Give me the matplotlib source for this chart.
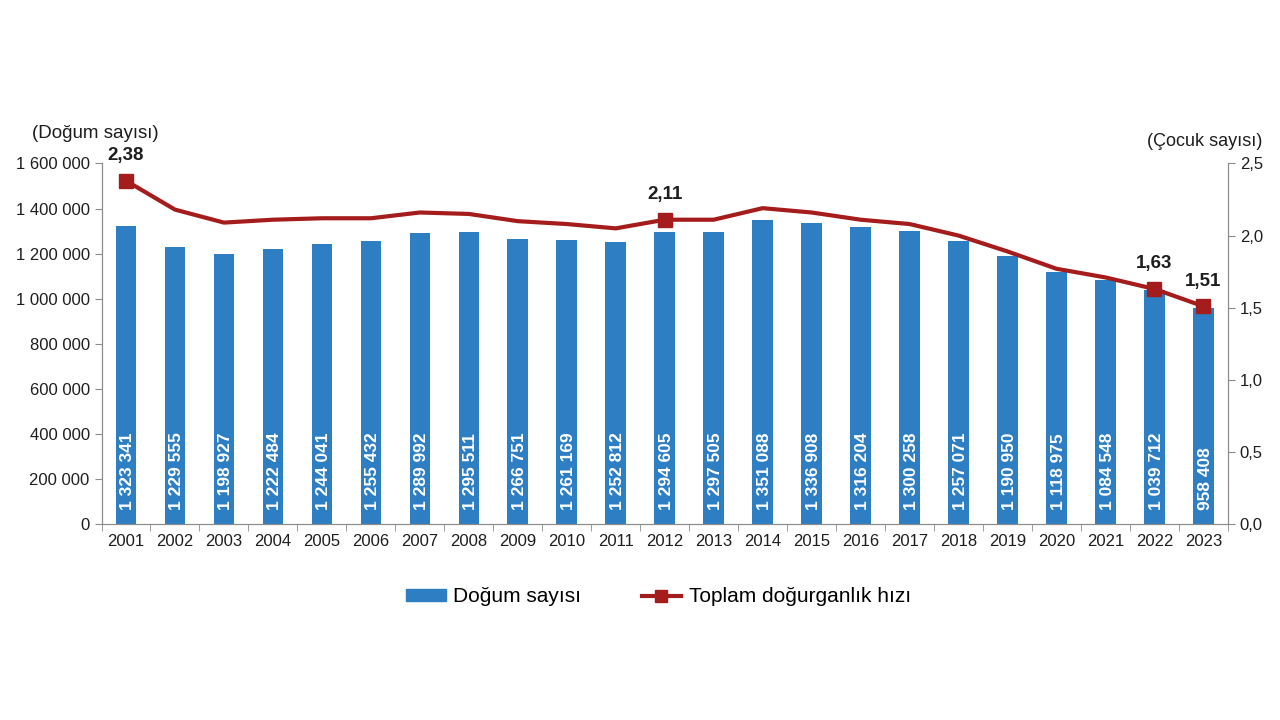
import matplotlib.pyplot as plt
from matplotlib.lines import Line2D
from matplotlib.patches import Patch

plt.rcParams['font.family'] = ['Liberation Sans', 'DejaVu Sans']

years = [str(y) for y in range(2001, 2024)]
births = [1323341, 1229555, 1198927, 1222484, 1244041, 1255432, 1289992, 1295511,
          1266751, 1261169, 1252812, 1294605, 1297505, 1351088, 1336908, 1316204,
          1300258, 1257071, 1190950, 1118975, 1084548, 1039712, 958408]
tfr = [2.38, 2.18, 2.09, 2.11, 2.12, 2.12, 2.16, 2.15, 2.10, 2.08, 2.05, 2.11,
       2.11, 2.19, 2.16, 2.11, 2.08, 2.00, 1.89, 1.77, 1.71, 1.63, 1.51]
tfr_labelled = ['2001', '2012', '2022', '2023']

bar_color = '#2E7EC4'
line_color = '#A51C1C'
grey = '#8C8C8C'
text_color = '#1E1E1E'


def fmt_space(v):
    return f"{v:,}".replace(',', ' ')


fig = plt.figure(figsize=(12.8, 7.2), dpi=100)
ax = fig.add_axes([0.0793, 0.272, 0.880, 0.501])
ax2 = ax.twinx()

x = list(range(len(years)))
ax.bar(x, births, width=0.42, color=bar_color, zorder=2)
for xi, v in zip(x, births):
    ax.text(xi + 0.04, 62000, fmt_space(v), rotation=90, ha='center', va='bottom',
            color='white', fontsize=12.5, fontweight='bold')

ax.set_xlim(-0.5, len(years) - 0.5)
ax.set_ylim(0, 1600000)
ax.set_yticks(range(0, 1600001, 200000))
ax.set_yticklabels([fmt_space(v) for v in range(0, 1600001, 200000)])
ax.set_xticks(x)
ax.set_xticklabels(years)
ax.set_xticks([i - 0.5 for i in range(len(years) + 1)], minor=True)
ax.tick_params(axis='x', which='major', length=0, labelsize=12, pad=7, colors=text_color)
ax.tick_params(axis='x', which='minor', length=5, color=grey)
ax.tick_params(axis='y', length=5, color=grey, labelsize=12, labelcolor=text_color)

mark_idx = [i for i, yr in enumerate(years) if yr in tfr_labelled]
ax2.plot(x, tfr, color=line_color, lw=3, marker='s', markersize=10,
         markevery=mark_idx, zorder=3)
ax2.set_ylim(0, 2.5)
ax2.set_yticks([0, 0.5, 1.0, 1.5, 2.0, 2.5])
ax2.set_yticklabels([f"{v:.1f}".replace('.', ',') for v in [0, 0.5, 1.0, 1.5, 2.0, 2.5]])
ax2.tick_params(axis='y', length=5, color=grey, labelsize=12, labelcolor=text_color)
for xi in mark_idx:
    v = tfr[xi]
    ax2.annotate(f"{v:.2f}".replace('.', ','), (xi, v), xytext=(0, 12),
                 textcoords='offset points', ha='center', va='bottom',
                 fontsize=13.5, fontweight='bold', color=text_color)

for a in (ax, ax2):
    a.spines['top'].set_visible(False)
    for s in ('left', 'right', 'bottom'):
        a.spines[s].set_color(grey)

fig.text(0.025, 0.808, '(Doğum sayısı)', fontsize=13.5, color=text_color)
fig.text(0.986, 0.797, '(Çocuk sayısı)', fontsize=13, color=text_color, ha='right')

handles = [Patch(color=bar_color),
           Line2D([0], [0], color=line_color, lw=3, marker='s', markersize=9)]
fig.legend(handles, ['Doğum sayısı', 'Toplam doğurganlık hızı'], loc='center',
           bbox_to_anchor=(0.5145, 0.171), ncol=2, frameon=False, fontsize=15,
           handlelength=1.9, handletextpad=0.35, columnspacing=2.9, handleheight=0.5)

fig.savefig('out.png', dpi=100)
